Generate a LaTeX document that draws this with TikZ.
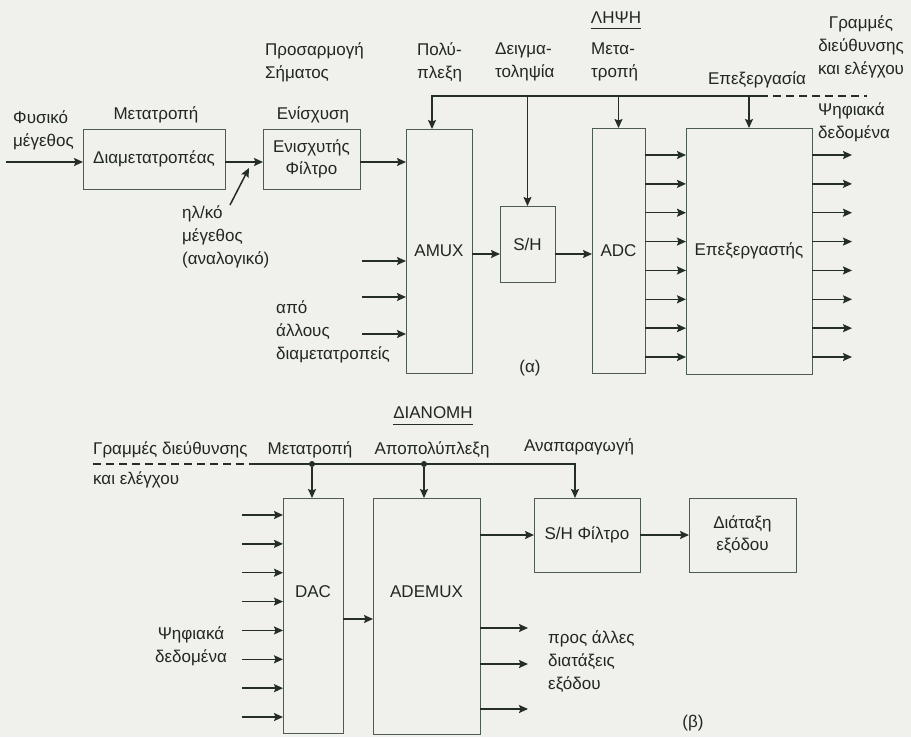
\documentclass[tikz,border=0pt]{standalone}
\usepackage{fontspec}
\setmainfont{Liberation Sans}
\usepackage{tikz}
\usetikzlibrary{arrows.meta, calc}
\definecolor{bgpaper}{RGB}{240,240,237}
\definecolor{inkline}{RGB}{36,46,36}
\definecolor{boxline}{RGB}{78,92,78}
\definecolor{inktext}{RGB}{32,40,32}

\begin{document}
\begin{tikzpicture}[
    x=1pt, y=-1pt,
    >={Stealth[length=9pt, width=8pt, inset=1.5pt]},
    blk/.style={rectangle, draw=boxline, line width=0.9pt, inner sep=0pt, outer sep=0pt,
        align=center, text=inktext, font=\fontsize{17}{22}\selectfont},
    lbl/.style={inner sep=0pt, align=left, font=\fontsize{17}{23}\selectfont, text=inktext},
    arr/.style={->, line width=1.5pt, draw=inkline},
    ctl/.style={line width=1.5pt, draw=inkline, dash pattern=on 8pt off 5pt},
    junc/.style={circle, fill=inkline, inner sep=0pt, minimum size=6pt},
    uline/.style={line width=1pt, draw=inkline},
]
\fill[bgpaper] (0,0) rectangle (911,737);
\useasboundingbox (0,0) rectangle (911,737);

\node[lbl] (lipsi) at (616,18) {ΛΗΨΗ};
\draw[uline] ([yshift=-4pt]lipsi.south west) -- ([yshift=-4pt]lipsi.south east);

\node[lbl, anchor=west] (phys) at (13,130) {Φυσικό\\μέγεθος};
\node[lbl] (metatr) at (156,115) {Μετατροπή};
\node[lbl] (enis) at (313,115) {Ενίσχυση};
\node[lbl, anchor=west] (prosarm) at (265,62) {Προσαρμογή\\Σήματος};
\node[lbl, anchor=west] (poly) at (417,62) {Πολύ-\\πλεξη};
\node[lbl, anchor=west] (deigm) at (495,62) {Δειγμα-\\τοληψία};
\node[lbl, anchor=west] (metaadc) at (591,62) {Μετα-\\τροπή};
\node[lbl] (epex) at (757,80) {Επεξεργασία};
\node[lbl, align=center] (grammes) at (861,47) {Γραμμές\\διεύθυνσης\\και ελέγχου};
\node[lbl, anchor=west] (psifout) at (818,122) {Ψηφιακά\\δεδομένα};

\node[blk, minimum width=142pt, minimum height=60pt] (trans) at (154,159) {Διαμετατροπέας};
\node[blk, minimum width=97pt, minimum height=60pt] (amp) at (311.5,159) {Ενισχυτής\\Φίλτρο};
\node[blk, minimum width=66pt, minimum height=244pt] (amux) at (439,251) {AMUX};
\node[blk, minimum width=55pt, minimum height=76pt] (sh) at (527.5,244) {S/H};
\node[blk, minimum width=53pt, minimum height=245pt] (adc) at (618.5,250.5) {ADC};
\node[blk, minimum width=126pt, minimum height=246pt] (proc) at (749,251) {Επεξεργαστής};

\node[lbl, anchor=west] (ilko) at (182,237) {ηλ/κό\\μέγεθος\\(αναλογικό)};
\node[lbl, anchor=west] (apo) at (276,332) {από\\άλλους\\διαμετατροπείς};
\node[lbl] (capa) at (530,368) {(α)};

\coordinate (physin) at (6,162);
\draw[arr] (physin) -- (physin -| trans.west);
\draw[arr] (trans.east |- physin) -- (amp.west |- physin);
\draw[arr] (amp.east |- physin) -- (amux.west |- physin);
\coordinate (ilkotail) at (230,205);
\coordinate (ilkohead) at (249,168);
\draw[arr] (ilkotail) -- (ilkohead);

\coordinate (busL) at (432,96);
\coordinate (busR) at (760,96);
\coordinate (busD) at (867,96);
\draw[arr] (busR) -- (busL) -- (busL |- amux.north);
\draw[ctl] (busR) -- (busD);
\draw[arr] (sh.north |- busL) -- (sh.north);
\draw[arr] (adc.north |- busL) -- (adc.north);
\draw[arr] (proc.north |- busL) -- (proc.north);

\coordinate (shin) at ([yshift=-10pt]sh.west);
\draw[arr] (amux.east |- shin) -- (shin);
\draw[arr] ([yshift=-10pt]sh.east) -- (adc.west |- shin);

\foreach \yy in {261,297,334}
    \draw[arr] (362,\yy) -- (amux.west |- 0,\yy);

\foreach \k [evaluate=\k as \yy using 155+28.86*\k] in {0,...,7} {
    \draw[arr] (adc.east |- 0,\yy) -- (proc.west |- 0,\yy);
    \draw[arr] (proc.east |- 0,\yy) -- (852,\yy);
}

\node[lbl] (dianomi) at (433,413) {ΔΙΑΝΟΜΗ};
\draw[uline] ([yshift=-5pt]dianomi.south west) -- ([yshift=-5pt]dianomi.south east);

\node[lbl, anchor=west] (gram2) at (93,450) {Γραμμές διεύθυνσης};
\node[lbl, anchor=west] (kai2) at (93,480) {και ελέγχου};
\node[lbl] (metadac) at (310,450) {Μετατροπή};
\node[lbl] (apopol) at (432,450) {Αποπολύπλεξη};
\node[lbl] (anapar) at (579,447) {Αναπαραγωγή};

\node[blk, minimum width=60pt, minimum height=235pt] (dac) at (313,615.5) {};
\node[lbl, yshift=23.5pt] (dactxt) at (dac.center) {DAC};
\node[blk, minimum width=107pt, minimum height=236pt] (ademux) at (426.5,616) {};
\node[lbl, yshift=24pt] (ademuxtxt) at (ademux.center) {ADEMUX};
\node[blk, minimum width=106pt, minimum height=74pt] (shf) at (587,535) {S/H Φίλτρο};
\node[blk, minimum width=107pt, minimum height=74pt] (outdev) at (742.5,535) {Διάταξη\\εξόδου};

\node[lbl, align=center] (psifin) at (191,646) {Ψηφιακά\\δεδομένα};
\node[lbl, anchor=west] (prosall) at (548,662) {προς άλλες\\διατάξεις\\εξόδου};
\node[lbl] (capb) at (693,723) {(β)};

\coordinate (cstart) at (93,464);
\coordinate (cmid) at (253,464);
\coordinate (cend) at (575,464);
\draw[ctl] (cstart) -- (cmid);
\draw[arr] (cmid) -- (cend) -- (cend |- shf.north);
\node[junc] (j1) at (312,464) {};
\node[junc] (j2) at (424,464) {};
\draw[arr] (j1) -- (j1 |- dac.north);
\draw[arr] (j2) -- (j2 |- ademux.north);

\foreach \k [evaluate=\k as \yy using 515+28.86*\k] in {0,...,7}
    \draw[arr] (242,\yy) -- (dac.west |- 0,\yy);
\draw[arr] (dac.east |- 0,619) -- (ademux.west |- 0,619);
\draw[arr] (ademux.east |- shf.west) -- (shf.west);
\draw[arr] (shf.east) -- (outdev.west);
\foreach \yy in {628,664,709}
    \draw[arr] (ademux.east |- 0,\yy) -- (528,\yy);
\end{tikzpicture}
\end{document}
